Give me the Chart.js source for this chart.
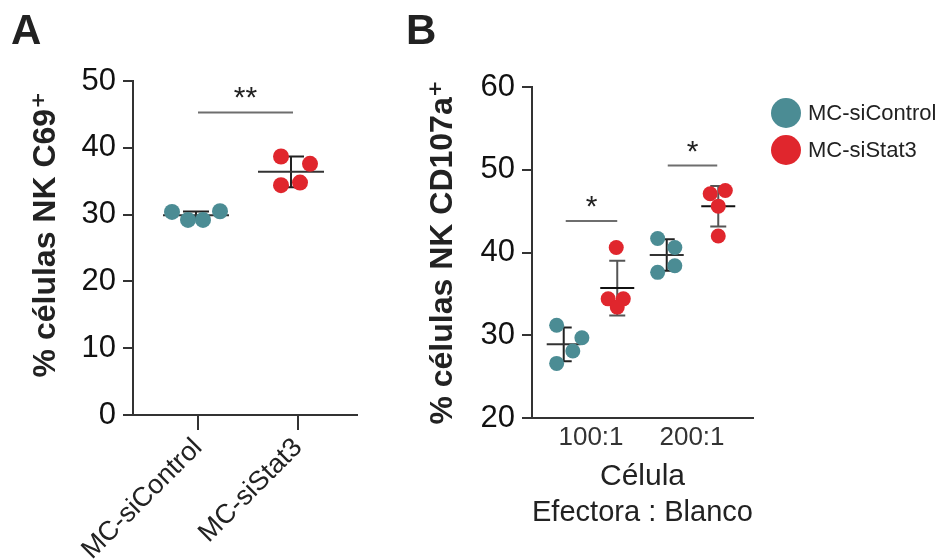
<!DOCTYPE html>
<html>
<head>
<meta charset="utf-8">
<script src="https://cdn.jsdelivr.net/npm/chart.js@4.4.1/dist/chart.umd.min.js"></script>
<style>
  html, body { margin: 0; padding: 0; background: #ffffff; }
  #wrap { position: relative; width: 946px; height: 560px; overflow: hidden; }
  #ca { position: absolute; left: 0; top: 0; }
  #cb { position: absolute; left: 400px; top: 0; }
</style>
</head>
<body>
<div id="wrap">
  <canvas id="ca" width="400" height="560"></canvas>
  <canvas id="cb" width="546" height="560"></canvas>
</div>
<script>
// ---------------- DATA ----------------
const seriesNames = ['MC-siControl', 'MC-siStat3'];

// Panel A
const catsA = ['MC-siControl', 'MC-siStat3'];
const yTicksA = [0, 10, 20, 30, 40, 50];
const ctrlA_x = [0.74, 0.90, 1.05, 1.22];
const ctrlA_y = [30.4, 29.2, 29.2, 30.5];
const stat3A_x = [1.83, 2.12, 1.83, 2.02];
const stat3A_y = [38.7, 37.6, 34.4, 34.8];
const meanA = [29.9, 36.4];
const sdA = [0.55, 2.3];
const errXA = [0.98, 1.93];
const sigA = [{ x1: 1.0, x2: 1.95, y: 45.3, label: '**' }];

// Panel B
const catsB = ['100:1', '200:1'];
const yTicksB = [20, 30, 40, 50, 60];
const ctrlB_x = [0.66, 0.91, 0.82, 0.66, 1.66, 1.83, 1.66, 1.83];
const ctrlB_y = [31.2, 29.7, 28.1, 26.6, 41.7, 40.6, 37.6, 38.4];
const stat3B_x = [1.25, 1.17, 1.32, 1.26, 2.18, 2.33, 2.26, 2.26];
const stat3B_y = [40.6, 34.4, 34.4, 33.4, 47.1, 47.5, 45.6, 42.0];
const meanB_ctrl = [28.9, 39.7];
const sdB_ctrl = [2.05, 1.9];
const errXB_ctrl = [0.73, 1.75];
const meanB_stat3 = [35.7, 45.6];
const sdB_stat3 = [3.3, 2.45];
const errXB_stat3 = [1.26, 2.26];
const sigB = [
  { x1: 0.75, x2: 1.26, y: 43.8, label: '*' },
  { x1: 1.76, x2: 2.25, y: 50.5, label: '*' }
];

// ---------------- STYLE ----------------
const TEAL = '#4b8c94';
const RED = '#e0262d';
const FONT = "'Liberation Sans', Arial, 'DejaVu Sans', sans-serif";
const AXIS = '#333333';

const toPts = (xs, ys) => xs.map((x, i) => ({ x: x, y: ys[i] }));

const overlay = {
  id: 'overlay',
  beforeDatasetsDraw(chart, args, opts) {
    const { ctx, scales: { x, y } } = chart;
    ctx.save();
    ctx.lineCap = 'butt';
    (opts.errors || []).forEach(e => {
      e.x.forEach((xv, i) => {
        const px = x.getPixelForValue(xv);
        const pm = y.getPixelForValue(e.mean[i]);
        const pt = y.getPixelForValue(e.mean[i] + e.sd[i]);
        const pb = y.getPixelForValue(e.mean[i] - e.sd[i]);
        ctx.strokeStyle = e.color;
        ctx.lineWidth = 2;
        ctx.beginPath();
        ctx.moveTo(px, pt); ctx.lineTo(px, pb);
        ctx.moveTo(px - e.cap, pt); ctx.lineTo(px + e.cap, pt);
        ctx.moveTo(px - e.cap, pb); ctx.lineTo(px + e.cap, pb);
        ctx.stroke();
        ctx.strokeStyle = e.meanColor;
        ctx.beginPath();
        ctx.moveTo(px - e.half, pm); ctx.lineTo(px + e.half, pm);
        ctx.stroke();
      });
    });
    ctx.restore();
  },
  afterDraw(chart, args, opts) {
    const { ctx, scales: { x, y } } = chart;
    ctx.save();
    (opts.sig || []).forEach(s => {
      const x1 = x.getPixelForValue(s.x1), x2 = x.getPixelForValue(s.x2);
      const py = y.getPixelForValue(s.y);
      ctx.strokeStyle = '#6e6e6e';
      ctx.lineWidth = 2;
      ctx.beginPath();
      ctx.moveTo(x1, py); ctx.lineTo(x2, py);
      ctx.stroke();
      ctx.fillStyle = '#222222';
      ctx.font = '30px ' + FONT;
      ctx.textAlign = 'center';
      ctx.textBaseline = 'alphabetic';
      ctx.fillText(s.label, (x1 + x2) / 2, py - 5);
    });
    if (opts.letter) {
      ctx.fillStyle = '#222222';
      ctx.font = 'bold 42px ' + FONT;
      ctx.textAlign = 'left';
      ctx.textBaseline = 'alphabetic';
      ctx.fillText(opts.letter.text, opts.letter.x, opts.letter.y);
    }
    if (opts.legend) {
      const L = opts.legend;
      L.items.forEach((it, i) => {
        const cy = L.y + i * L.gap;
        ctx.fillStyle = it.color;
        ctx.beginPath();
        ctx.arc(L.x, cy, L.r, 0, Math.PI * 2);
        ctx.fill();
        ctx.fillStyle = '#222222';
        ctx.font = '22px ' + FONT;
        ctx.textAlign = 'left';
        ctx.textBaseline = 'middle';
        ctx.fillText(it.label, L.x + L.r + 7, cy + 1);
      });
    }
    ctx.restore();
  }
};

function yScale(ticksArr, width, titleText, titlePad) {
  return {
    type: 'linear',
    min: ticksArr[0],
    max: ticksArr[ticksArr.length - 1],
    afterBuildTicks: s => { s.ticks = ticksArr.map(v => ({ value: v })); },
    afterFit: s => { s.width = width; },
    grid: { display: true, drawOnChartArea: false, drawTicks: true, tickLength: 10, color: AXIS, lineWidth: 2 },
    border: { display: true, color: AXIS, width: 2 },
    ticks: { color: '#111111', font: { family: FONT, size: 31 }, padding: 7 },
    title: {
      display: true, text: titleText, color: '#222222',
      font: { family: FONT, size: 32, weight: 'bold' },
      padding: { top: titlePad, bottom: 0 }
    }
  };
}

// ---------------- CHART A ----------------
new Chart(document.getElementById('ca'), {
  type: 'scatter',
  data: {
    datasets: [
      { label: seriesNames[0], data: toPts(ctrlA_x, ctrlA_y), backgroundColor: TEAL, borderWidth: 0, pointRadius: 8, pointHoverRadius: 8 },
      { label: seriesNames[1], data: toPts(stat3A_x, stat3A_y), backgroundColor: RED, borderWidth: 0, pointRadius: 8, pointHoverRadius: 8 }
    ]
  },
  options: {
    responsive: false,
    animation: false,
    devicePixelRatio: 1,
    layout: { padding: { left: 0, top: 81, right: 43, bottom: 0 } },
    plugins: {
      legend: { display: false },
      tooltip: { enabled: false },
      overlay: {
        errors: [
          { x: errXA, mean: meanA, sd: sdA, color: '#222222', meanColor: '#333333', cap: 13, half: 33 }
        ],
        sig: sigA,
        letter: { text: 'A', x: 11, y: 44 }
      }
    },
    scales: {
      x: {
        type: 'linear',
        min: 0.35,
        max: 2.59,
        afterBuildTicks: s => { s.ticks = catsA.map((c, i) => ({ value: i + 1 })); },
        afterFit: s => { s.height = 145; },
        grid: { display: true, drawOnChartArea: false, drawTicks: true, tickLength: 15, color: AXIS, lineWidth: 2 },
        border: { display: true, color: AXIS, width: 2 },
        ticks: {
          color: '#222222', font: { family: FONT, size: 27 }, padding: 2,
          minRotation: 45, maxRotation: 45, autoSkip: false,
          callback: v => catsA[Math.round(v) - 1]
        }
      },
      y: yScale(yTicksA, 133, '   % células NK C69⁺', 27)
    }
  },
  plugins: [overlay]
});

// ---------------- CHART B ----------------
new Chart(document.getElementById('cb'), {
  type: 'scatter',
  data: {
    datasets: [
      { label: seriesNames[0], data: toPts(ctrlB_x, ctrlB_y), backgroundColor: TEAL, borderWidth: 0, pointRadius: 7.5, pointHoverRadius: 7.5 },
      { label: seriesNames[1], data: toPts(stat3B_x, stat3B_y), backgroundColor: RED, borderWidth: 0, pointRadius: 7.5, pointHoverRadius: 7.5 }
    ]
  },
  options: {
    responsive: false,
    animation: false,
    devicePixelRatio: 1,
    layout: { padding: { left: 0, top: 87, right: 193, bottom: 0 } },
    plugins: {
      legend: { display: false },
      tooltip: { enabled: false },
      overlay: {
        errors: [
          { x: errXB_ctrl, mean: meanB_ctrl, sd: sdB_ctrl, color: '#222222', meanColor: '#333333', cap: 8, half: 17 },
          { x: errXB_stat3, mean: meanB_stat3, sd: sdB_stat3, color: '#555555', meanColor: '#111111', cap: 8, half: 17 }
        ],
        sig: sigB,
        letter: { text: 'B', x: 6, y: 44 },
        legend: {
          x: 386, y: 113, gap: 37, r: 15,
          items: [ { label: seriesNames[0], color: TEAL }, { label: seriesNames[1], color: RED } ]
        }
      }
    },
    scales: {
      x: {
        type: 'linear',
        min: 0.416,
        max: 2.604,
        afterBuildTicks: s => { s.ticks = catsB.map((c, i) => ({ value: i + 1 })); },
        afterFit: s => { s.height = 142; },
        grid: { display: false, drawTicks: false },
        border: { display: true, color: AXIS, width: 2 },
        ticks: {
          color: '#333333', font: { family: FONT, size: 26 }, padding: 4,
          maxRotation: 0, autoSkip: false,
          callback: v => catsB[Math.round(v) - 1]
        },
        title: {
          display: true, text: ['Célula', 'Efectora : Blanco'], color: '#222222',
          font: { family: FONT, size: 30, lineHeight: 1.2 },
          padding: { top: 0, bottom: 29 }
        }
      },
      y: yScale(yTicksB, 132, '% células NK CD107a⁺', 24)
    }
  },
  plugins: [overlay]
});
</script>
</body>
</html>
